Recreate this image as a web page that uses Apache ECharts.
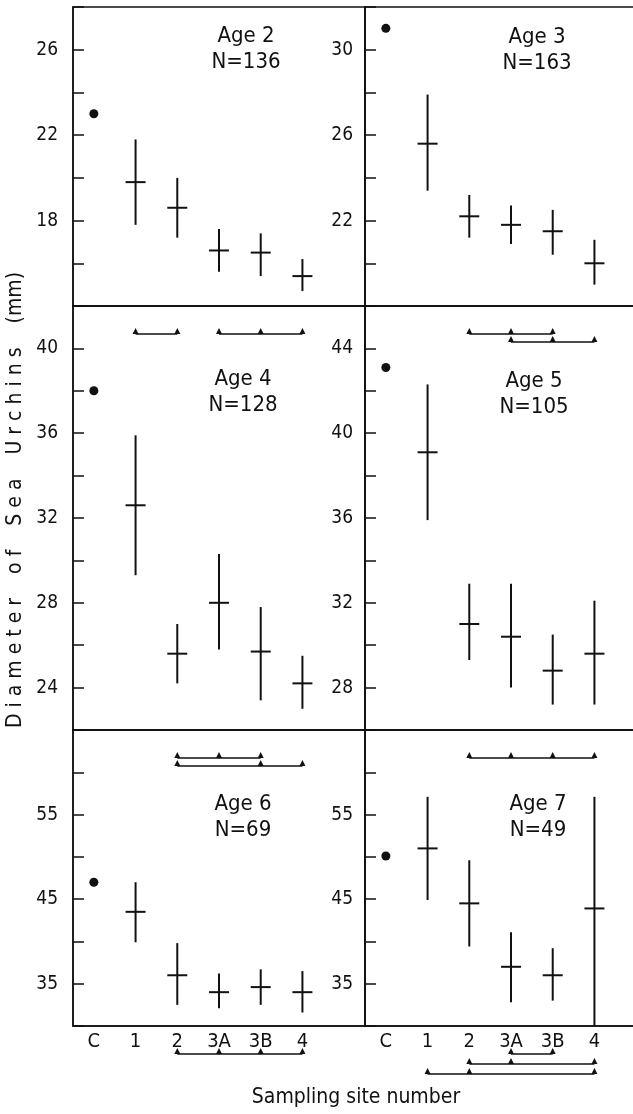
<!DOCTYPE html>
<html>
<head>
<meta charset="utf-8">
<script src="https://cdn.jsdelivr.net/npm/echarts@6/dist/echarts.min.js"></script>
<style>
  html, body { margin: 0; padding: 0; background: #fff; }
  #main { width: 633px; height: 1114px; }
</style>
</head>
<body>
<div id="main"></div>
<script>
// sites along the x axis
const sites = ["C", "1", "2", "3A", "3B", "4"];
const ageNames = ["Age 2", "Age 3", "Age 4", "Age 5", "Age 6", "Age 7"];
const sampleSizes = [136, 163, 128, 105, 69, 49];

// mean diameter (mm) and the range bars, C has only the mean
const age2Mean = [23.0, 19.8, 18.6, 16.6, 16.5, 15.4];
const age2Low = [null, 17.8, 17.2, 15.6, 15.4, 14.7];
const age2High = [null, 21.8, 20.0, 17.6, 17.4, 16.2];

const age3Mean = [31.0, 25.6, 22.2, 21.8, 21.5, 20.0];
const age3Low = [null, 23.4, 21.2, 20.9, 20.4, 19.0];
const age3High = [null, 27.9, 23.2, 22.7, 22.5, 21.1];

const age4Mean = [38.0, 32.6, 25.6, 28.0, 25.7, 24.2];
const age4Low = [null, 29.3, 24.2, 25.8, 23.4, 23.0];
const age4High = [null, 35.9, 27.0, 30.3, 27.8, 25.5];

const age5Mean = [43.1, 39.1, 31.0, 30.4, 28.8, 29.6];
const age5Low = [null, 35.9, 29.3, 28.0, 27.2, 27.2];
const age5High = [null, 42.3, 32.9, 32.9, 30.5, 32.1];

const age6Mean = [47.0, 43.5, 36.0, 34.0, 34.6, 34.0];
const age6Low = [null, 39.9, 32.5, 32.1, 32.5, 31.6];
const age6High = [null, 47.0, 39.8, 36.2, 36.7, 36.5];

const age7Mean = [50.1, 51.0, 44.5, 37.0, 36.0, 43.9];
const age7Low = [null, 44.9, 39.4, 32.8, 33.0, 30.0];
const age7High = [null, 57.1, 49.6, 41.1, 39.2, 57.1];

// groups of sites not significantly different (site indexes) and the row each one sits on
const age2Groups = [[1, 2], [3, 4, 5]];
const age2Rows = [0, 0];
const age3Groups = [[2, 3, 4], [3, 4, 5]];
const age3Rows = [0, 1];
const age4Groups = [[2, 3, 4], [2, 4, 5]];
const age4Rows = [0, 1];
const age5Groups = [[2, 3, 4, 5]];
const age5Rows = [0];
const age6Groups = [[2, 3, 4, 5]];
const age6Rows = [0];
const age7Groups = [[3, 4], [2, 3, 5], [1, 2, 5]];
const age7Rows = [0, 1, 2];

// y axis ranges
const yMins = [14, 18, 22, 26, 30, 30];
const yMaxs = [28, 32, 42, 46, 65, 65];
const yIntervals = [2, 2, 2, 2, 5, 5];
const yLabelEvery = [4, 4, 4, 4, 10, 10];
const yLabelFrom = [18, 22, 24, 28, 35, 35];

const means = [age2Mean, age3Mean, age4Mean, age5Mean, age6Mean, age7Mean];
const lows = [age2Low, age3Low, age4Low, age5Low, age6Low, age7Low];
const highs = [age2High, age3High, age4High, age5High, age6High, age7High];
const groups = [age2Groups, age3Groups, age4Groups, age5Groups, age6Groups, age7Groups];
const groupRows = [age2Rows, age3Rows, age4Rows, age5Rows, age6Rows, age7Rows];

const FONT = "'DejaVu Sans Condensed', 'Liberation Sans Narrow', 'Roboto Condensed', 'DejaVu Sans', sans-serif";
const INK = "#111";

// panel layout
const panels = [
  { left: 73, top: 7, width: 292, height: 299, titleX: 246, titleY: 23, gap: 8 },
  { left: 365, top: 7, width: 292, height: 299, titleX: 537, titleY: 24, gap: 8 },
  { left: 73, top: 306, width: 292, height: 424, titleX: 243, titleY: 366, gap: 8 },
  { left: 365, top: 306, width: 292, height: 424, titleX: 534, titleY: 368, gap: 8 },
  { left: 73, top: 730, width: 292, height: 296, titleX: 243, titleY: 791, gap: 10 },
  { left: 365, top: 730, width: 292, height: 296, titleX: 538, titleY: 791, gap: 10 },
];

function barRenderer(k) {
  return function (params, api) {
    const i = params.dataIndex;
    const c = api.coord([api.value(0), api.value(1)]);
    if (lows[k][i] == null) {
      return { type: "circle", shape: { cx: c[0], cy: c[1], r: 4.5 }, style: { fill: INK } };
    }
    const top = api.coord([i, highs[k][i]]);
    const bot = api.coord([i, lows[k][i]]);
    const st = { stroke: INK, lineWidth: 2 };
    return {
      type: "group",
      children: [
        { type: "line", shape: { x1: c[0], y1: top[1], x2: c[0], y2: bot[1] }, style: st },
        { type: "line", shape: { x1: c[0] - 10, y1: c[1], x2: c[0] + 10, y2: c[1] }, style: st },
      ],
    };
  };
}

function bracketRenderer(k) {
  return function (params, api) {
    const g = groups[k][params.dataIndex];
    const cs = params.coordSys;
    const y = cs.y + cs.height + 28 + groupRows[k][params.dataIndex] * panels[k].gap;
    const xs = g.map((s) => api.coord([s, yMins[k]])[0]);
    const children = [
      { type: "line", shape: { x1: xs[0], y1: y, x2: xs[xs.length - 1], y2: y }, style: { stroke: INK, lineWidth: 1.6 } },
    ];
    xs.forEach((x) => {
      children.push({
        type: "polygon",
        shape: { points: [[x - 3, y], [x + 3, y], [x, y - 6]] },
        style: { fill: INK },
      });
    });
    return { type: "group", children: children };
  };
}

const grid = [], xAxis = [], yAxis = [], series = [];
panels.forEach((p, k) => {
  grid.push({
    left: p.left, top: p.top, width: p.width, height: p.height,
    show: true, borderColor: INK, borderWidth: 1.5, backgroundColor: "transparent",
    containLabel: false, outerBoundsMode: "none",
  });
  xAxis.push({
    type: "category",
    gridIndex: k,
    data: sites.concat([""]),
    boundaryGap: true,
    axisLine: { lineStyle: { color: INK, width: 1.5 } },
    axisTick: {
      inside: true, length: 9, alignWithLabel: true,
      interval: (i) => i < sites.length,
      lineStyle: { color: INK, width: 1.5 },
    },
    axisLabel: {
      show: k >= 4, interval: 0, margin: 6,
      color: INK, fontSize: 20, fontFamily: FONT,
    },
    splitLine: { show: false },
  });
  yAxis.push({
    type: "value",
    gridIndex: k,
    min: yMins[k], max: yMaxs[k], interval: yIntervals[k],
    axisLine: { show: true, lineStyle: { color: INK, width: 1.5 } },
    axisTick: { show: true, inside: true, length: 11, lineStyle: { color: INK, width: 1.5 } },
    axisLabel: {
      margin: k % 2 === 0 ? 15 : 12,
      color: INK, fontSize: 19, fontFamily: FONT,
      formatter: (v) => ((v - yLabelFrom[k]) % yLabelEvery[k] === 0 && v >= yLabelFrom[k] && v < yMaxs[k] ? String(v) : ""),
    },
    splitLine: { show: false },
  });
  series.push({
    type: "custom",
    xAxisIndex: k, yAxisIndex: k,
    renderItem: barRenderer(k),
    data: means[k].map((m, i) => [i, m]),
    clip: false, silent: true,
  });
  series.push({
    type: "custom",
    xAxisIndex: k, yAxisIndex: k,
    renderItem: bracketRenderer(k),
    data: groups[k].map((g) => [g[0], yMins[k]]),
    clip: false, silent: true,
  });
});

const graphic = panels.map((p, k) => ({
  type: "text",
  x: p.titleX, y: p.titleY,
  style: {
    text: ageNames[k] + "\nN=" + sampleSizes[k],
    fill: INK, fontSize: 22, lineHeight: 26, fontFamily: FONT,
    align: "center", verticalAlign: "top", textAlign: "center", textVerticalAlign: "top",
  },
}));
graphic.push({
  type: "text", x: 16, y: 500, rotation: Math.PI / 2,
  style: {
    text: "D i a m e t e r    o f    S e a    U r c h i n s    (mm)",
    fill: INK, fontSize: 21, fontFamily: FONT,
    align: "center", verticalAlign: "middle", textAlign: "center", textVerticalAlign: "middle",
  },
});
graphic.push({
  type: "text", x: 356, y: 1098,
  style: {
    text: "Sampling site number",
    fill: INK, fontSize: 21, fontFamily: FONT,
    align: "center", verticalAlign: "middle", textAlign: "center", textVerticalAlign: "middle",
  },
});

let myChart = echarts.init(document.getElementById("main"));
myChart.setOption({
  animation: false,
  backgroundColor: "#fff",
  grid: grid,
  xAxis: xAxis,
  yAxis: yAxis,
  series: series,
  graphic: graphic,
});
</script>
</body>
</html>
